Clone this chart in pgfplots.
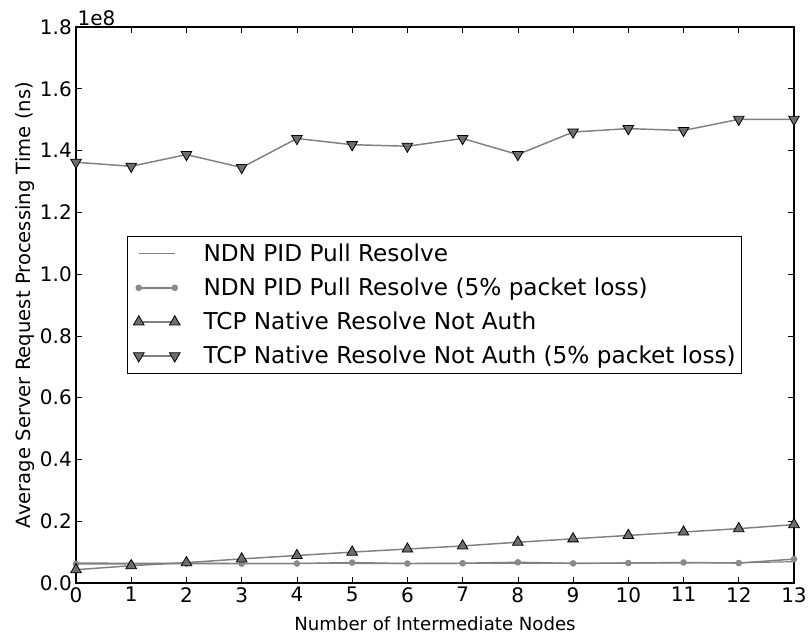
\documentclass[border=0pt,12pt]{standalone}
\usepackage{fontspec}
\setmainfont{DejaVu Sans}
\usepackage{pgfplots}
\pgfplotsset{compat=1.18}
\definecolor{linegray}{HTML}{808080}
\definecolor{markgray}{HTML}{6E6E6E}
\definecolor{dotgray}{HTML}{8A8A8A}

\pgfplotstableread{
x y
0 6500000
1 6400000
2 6400000
3 6350000
4 6350000
5 6350000
6 6300000
7 6350000
8 6400000
9 6400000
10 6450000
11 6500000
12 6550000
13 6900000
}\ndnplain

\pgfplotstableread{
x y
0 6200000
1 6200000
2 6300000
3 6250000
4 6300000
5 6600000
6 6300000
7 6400000
8 6700000
9 6350000
10 6450000
11 6650000
12 6450000
13 7750000
}\ndnloss

\pgfplotstableread{
x y
0 4300000
1 5600000
2 6600000
3 7800000
4 8900000
5 10000000
6 11000000
7 12000000
8 13200000
9 14300000
10 15400000
11 16500000
12 17600000
13 18900000
}\tcpnative

\pgfplotstableread{
x y
0 136200000
1 134900000
2 138700000
3 134500000
4 143900000
5 141900000
6 141400000
7 143900000
8 138700000
9 146000000
10 147100000
11 146500000
12 150100000
13 150100000
}\tcploss

\begin{document}
\begin{tikzpicture}
\path[use as bounding box] (-57pt,-39.75pt) rectangle (549pt,437.25pt);
\begin{axis}[
  at={(0,0)}, anchor=south west,
  scale only axis, width=538.5pt, height=417pt,
  xmin=0, xmax=13, ymin=0, ymax=180000000,
  xtick={0,1,...,13},
  ytick={0,20000000,40000000,60000000,80000000,100000000,120000000,140000000,160000000,180000000},
  yticklabels={0.0,0.2,0.4,0.6,0.8,1.0,1.2,1.4,1.6,1.8},
  scaled y ticks=false,
  /pgf/number format/assume math mode=true,
  tick align=inside,
  major tick length=4.5pt,
  tick style={black, line width=0.5pt},
  axis line style={black, line width=0.8pt},
  ticklabel style={font=\fontsize{15}{17}\selectfont},
  xticklabel style={yshift=1pt},
  yticklabel style={xshift=1pt},
  xlabel={Number of Intermediate Nodes},
  ylabel={Average Server Request Processing Time (ns)},
  xlabel style={font=\fontsize{13.6}{16}\selectfont, yshift=-2.5pt},
  ylabel style={font=\fontsize{14.7}{17}\selectfont, yshift=-4pt},
  clip=false,
  legend cell align=left,
  legend style={at={(rel axis cs:0.071,0.624)}, anchor=north west,
    draw=black, line width=0.6pt, font=\fontsize{17.4}{20}\selectfont,
    inner xsep=0pt, inner ysep=3.5pt, row sep=6.5pt,
    nodes={inner xsep=4pt}},
  legend image code/.code={\path (-8pt,0pt) (44pt,0pt);
    \draw[#1] plot coordinates {(0pt,0pt) (27pt,0pt)};},
]
\addplot[color=linegray, line width=0.9pt, mark=none] table[x=x,y=y] {\ndnplain};
\addlegendentry{NDN PID Pull Resolve}
\addplot[color=linegray, line width=1.1pt, mark=*, mark size=1.9pt,
  mark options={fill=dotgray, draw=dotgray}] table[x=x,y=y] {\ndnloss};
\addlegendentry{NDN PID Pull Resolve (5\% packet loss)}
\addplot[color=linegray, line width=1.1pt, mark=triangle*, mark size=4.6pt,
  mark options={fill=markgray, draw=black, line width=0.6pt}] table[x=x,y=y] {\tcpnative};
\addlegendentry{TCP Native Resolve Not Auth}
\addplot[color=linegray, line width=1.1pt, mark=triangle*, mark size=4.6pt,
  mark options={fill=markgray, draw=black, line width=0.6pt, rotate=180}] table[x=x,y=y] {\tcploss};
\addlegendentry{TCP Native Resolve Not Auth (5\% packet loss)}
\node[anchor=south west, font=\fontsize{15}{17}\selectfont, inner sep=1pt] at (rel axis cs:0,1) {1e8};
\end{axis}
\end{tikzpicture}
\end{document}
